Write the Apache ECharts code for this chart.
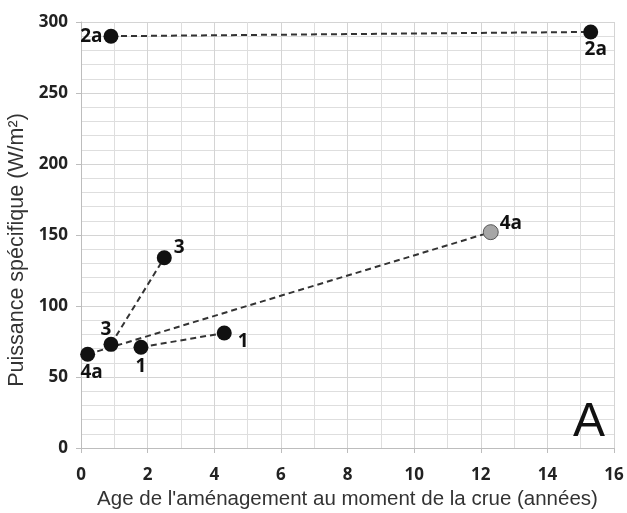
<!DOCTYPE html>
<html>
<head>
<meta charset="utf-8">
<script src="https://cdn.jsdelivr.net/npm/echarts@6/dist/echarts.min.js"></script>
<style>html,body{margin:0;padding:0;background:#fff}#c{width:627px;height:513px}</style>
</head>
<body>
<div id="c"></div>
<script>
// Data
const pointLabels = ['1', '1', '2a', '2a', '3', '3', '4a', '4a'];
const ageYears    = [1.8, 4.3, 0.9, 15.3, 0.9, 2.5, 0.2, 12.3];
const powerWm2    = [71, 81, 290, 293, 73, 134, 66, 152];
const groups      = ['1', '2a', '3', '4a'];
const xTicks      = [0, 2, 4, 6, 8, 10, 12, 14, 16];
const yTicks      = [0, 50, 100, 150, 200, 250, 300];

// label placement (style only)
const labelStyle = [
  {position: 'bottom', distance: 2},
  {position: 'right', offset: [0, 9], distance: 6},
  {position: 'left', distance: 1},
  {position: 'bottom', offset: [5, 0], distance: 1},
  {position: 'top', offset: [-5, 3], distance: 1},
  {position: 'right', offset: [-2, -10], distance: 4},
  {position: 'bottom', offset: [4, 0], distance: 1},
  {position: 'right', offset: [-3, -9], distance: 4}
];
const grayPoint = 7;

const series = groups.map(g => {
  const data = [];
  pointLabels.forEach((l, i) => {
    if (l !== g) return;
    data.push({
      value: [ageYears[i], powerWm2[i]],
      itemStyle: i === grayPoint ? {color: '#a6a6a6', borderColor: '#555', borderWidth: 1} : {color: '#111'},
      label: Object.assign({show: true, formatter: l}, labelStyle[i])
    });
  });
  return {
    type: 'line',
    data: data,
    symbol: 'circle',
    symbolSize: 15,
    lineStyle: {color: '#333', width: 2, type: [6, 4]},
    label: {color: '#111', fontFamily: 'Open Sans', fontWeight: 'bold', fontSize: 19},
    z: 3,
    animation: false
  };
});

const chart = echarts.init(document.getElementById('c'), null, {renderer: 'canvas'});
chart.setOption({
  animation: false,
  grid: {left: 81, right: 13, top: 22, bottom: 65, containLabel: false, outerBoundsMode: 'none'},
  xAxis: {
    type: 'value', min: xTicks[0], max: xTicks[xTicks.length - 1], interval: 2,
    name: "Age de l'aménagement au moment de la crue (années)",
    nameLocation: 'middle', nameGap: 41,
    nameTextStyle: {fontFamily: 'Liberation Sans', fontSize: 20.5, color: '#333'},
    axisLine: {show: true, lineStyle: {color: '#bdbdbd', width: 1}},
    axisTick: {show: true, length: 5, lineStyle: {color: '#bdbdbd'}},
    axisLabel: {fontFamily: 'Open Sans', fontWeight: 'bold', fontSize: 17, color: '#222', margin: 19},
    splitLine: {show: true, lineStyle: {color: '#d4d4d4', width: 1}},
    minorTick: {show: false, splitNumber: 2},
    minorSplitLine: {show: true, lineStyle: {color: '#dedede', width: 1}}
  },
  yAxis: {
    type: 'value', min: yTicks[0], max: yTicks[yTicks.length - 1], interval: 50,
    name: 'Puissance spécifique (W/m²)',
    nameLocation: 'middle', nameGap: 47,
    nameTextStyle: {fontFamily: 'Liberation Sans', fontSize: 21.5, color: '#333', padding: [0, 30, 0, 0]},
    axisLine: {show: true, lineStyle: {color: '#bdbdbd', width: 1}},
    axisTick: {show: true, length: 5, lineStyle: {color: '#bdbdbd'}},
    axisLabel: {fontFamily: 'Open Sans', fontWeight: 'bold', fontSize: 17, color: '#222', margin: 13},
    splitLine: {show: true, lineStyle: {color: '#d4d4d4', width: 1}},
    minorTick: {show: false, splitNumber: 5},
    minorSplitLine: {show: true, lineStyle: {color: '#dedede', width: 1}}
  },
  graphic: [{
    type: 'text', right: 22, bottom: 66, z: 100,
    style: {text: 'A', fontFamily: 'Liberation Sans', fontSize: 48, fill: '#111'}
  }],
  series: series
});
</script>
</body>
</html>
